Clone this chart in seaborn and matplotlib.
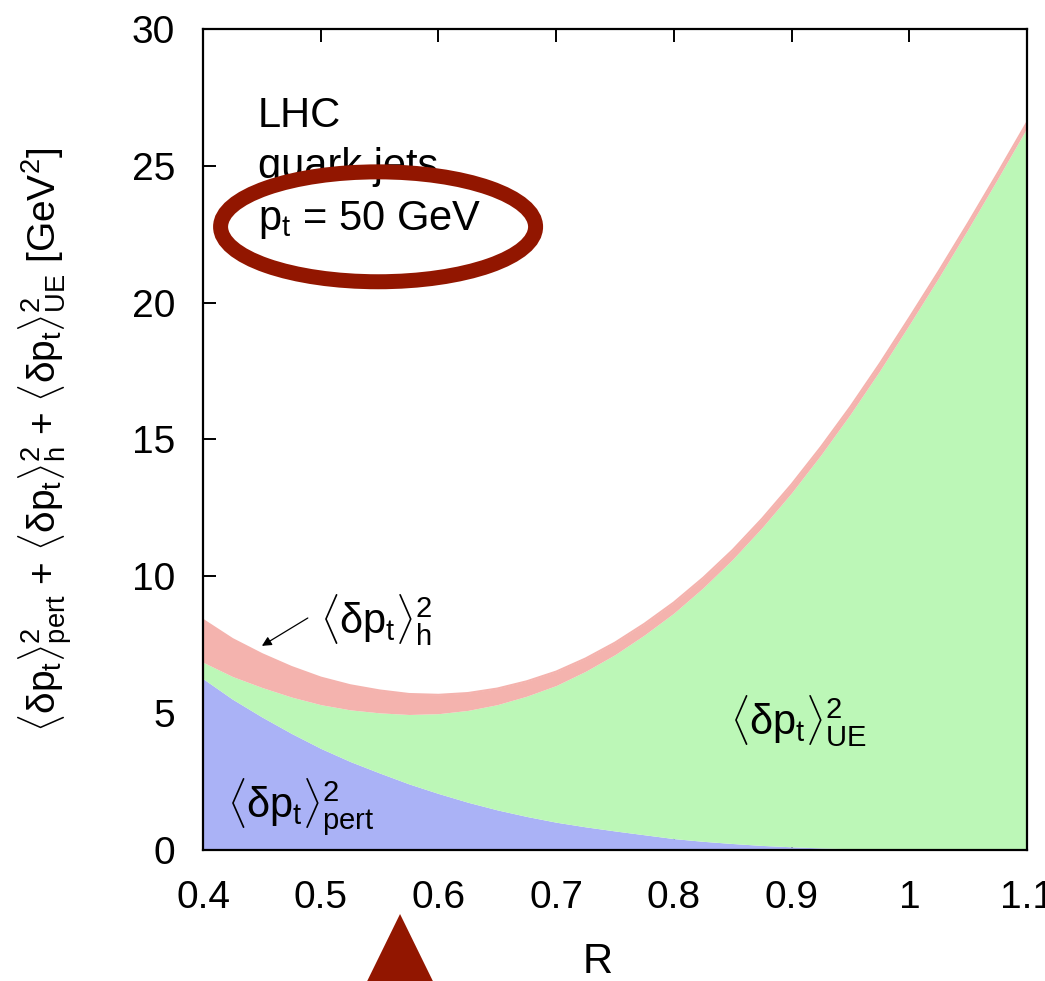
import numpy as np
import pandas as pd
import seaborn as sns
import matplotlib
matplotlib.use("Agg")
import matplotlib.pyplot as plt
from matplotlib.patches import Ellipse, Polygon

# Jet radius and the three contributions to the squared pt dispersion [GeV^2]
R = [0.400, 0.425, 0.450, 0.475, 0.500, 0.525, 0.550, 0.575, 0.600, 0.625,
     0.650, 0.675, 0.700, 0.725, 0.750, 0.775, 0.800, 0.825, 0.850, 0.875,
     0.900, 0.925, 0.950, 0.975, 1.000, 1.025, 1.050, 1.075, 1.100]
pert = [6.25, 5.50, 4.85, 4.25, 3.70, 3.22, 2.80, 2.40, 2.05, 1.73,
        1.45, 1.21, 1.00, 0.83, 0.68, 0.54, 0.40, 0.30, 0.22, 0.15,
        0.10, 0.06, 0.03, 0.01, 0.00, 0.00, 0.00, 0.00, 0.00]
ue = [0.60, 0.83, 1.08, 1.33, 1.60, 1.89, 2.20, 2.54, 2.92, 3.36,
      3.85, 4.40, 5.00, 5.69, 6.45, 7.31, 8.25, 9.28, 10.40, 11.63,
      12.95, 14.38, 15.90, 17.51, 19.20, 20.92, 22.70, 24.53, 26.40]
had = [1.55, 1.37, 1.22, 1.10, 0.99, 0.90, 0.82, 0.75, 0.69, 0.635,
       0.59, 0.545, 0.51, 0.47, 0.44, 0.41, 0.39, 0.365, 0.34, 0.325,
       0.31, 0.29, 0.27, 0.26, 0.25, 0.235, 0.22, 0.21, 0.20]

x_ticks = [0.4, 0.5, 0.6, 0.7, 0.8, 0.9, 1.0, 1.1]
x_ticklabels = ["0.4", "0.5", "0.6", "0.7", "0.8", "0.9", "1", "1.1"]
y_ticks = [0, 5, 10, 15, 20, 25, 30]

sns.set_theme(style="ticks", rc={"text.color": "black", "axes.labelcolor": "black",
                                 "xtick.color": "black", "ytick.color": "black",
                                 "axes.edgecolor": "black"})
plt.rcParams["font.family"] = ["Liberation Sans", "DejaVu Sans"]
plt.rcParams["mathtext.fontset"] = "custom"
plt.rcParams["mathtext.rm"] = "Liberation Sans"
plt.rcParams["mathtext.it"] = "Liberation Sans"
plt.rcParams["mathtext.bf"] = "Liberation Sans:bold"
plt.rcParams["mathtext.sf"] = "Liberation Sans"

df = pd.DataFrame({"R": R, "pert": pert, "ue": ue, "had": had})
df["lvl1"] = df["pert"]
df["lvl2"] = df["pert"] + df["ue"]
df["lvl3"] = df["lvl2"] + df["had"]

c_pert = "#aab2f6"
c_ue = "#bcf7b7"
c_had = "#f4b3ae"

fig = plt.figure(figsize=(10.45, 9.81), dpi=100)
ax = fig.add_axes([0.1943, 0.134, 0.7885, 0.836])

ax.fill_between(df["R"], 0, df["lvl1"], color=c_pert, lw=0)
ax.fill_between(df["R"], df["lvl1"], df["lvl2"], color=c_ue, lw=0)
ax.fill_between(df["R"], df["lvl2"], df["lvl3"], color=c_had, lw=0)
sns.lineplot(data=df, x="R", y="lvl3", ax=ax, color=c_had, lw=1.5)

ax.set_xlim(0.4, 1.1)
ax.set_ylim(0, 30)
ax.set_xticks(x_ticks)
ax.set_xticklabels(x_ticklabels)
ax.set_yticks(y_ticks)
ax.tick_params(direction="in", length=9, width=1.4, top=True, right=True,
               labelsize=28, colors="black")
ax.tick_params(axis="x", pad=22)
ax.tick_params(axis="y", pad=20)
for s in ax.spines.values():
    s.set_linewidth(1.6)
    s.set_color("black")

ax.set_xlabel("R", fontsize=30)
ax.xaxis.set_label_coords(0.479, -0.113)
ax.set_ylabel(r"$\langle\delta p_{\rm t}\rangle^2_{\rm pert}$ + "
              r"$\langle\delta p_{\rm t}\rangle^2_{\rm h}$ + "
              r"$\langle\delta p_{\rm t}\rangle^2_{\rm UE}$ [GeV$^2$]",
              fontsize=28)
ax.yaxis.set_label_coords(-0.155, 0.5)

# Corner text
ax.text(0.4467, 26.43, "LHC", fontsize=30, va="baseline", ha="left")
ax.text(0.4467, 24.55, "quark jets", fontsize=30, va="baseline", ha="left")
ax.text(0.4467, 22.67, r"p$_{\rm t}$ = 50 GeV", fontsize=30, va="baseline", ha="left")

# Labels of the three contributions
ax.text(0.4204, 1.15, r"$\langle\delta p_{\rm t}\rangle^2_{\rm pert}$", fontsize=30,
        va="baseline", ha="left")
ax.text(0.8478, 4.19, r"$\langle\delta p_{\rm t}\rangle^2_{\rm UE}$", fontsize=30,
        va="baseline", ha="left")
ax.text(0.4994, 7.85, r"$\langle\delta p_{\rm t}\rangle^2_{\rm h}$", fontsize=30,
        va="baseline", ha="left")
ax.annotate("", xy=(0.450, 7.45), xytext=(0.489, 8.47),
            arrowprops=dict(arrowstyle="-|>", color="black", lw=0.9,
                            mutation_scale=14, shrinkA=0, shrinkB=0))

# Highlight marks
ax.add_patch(Ellipse((0.5487, 22.78), 0.2676, 4.02, fill=False,
                     edgecolor="#921600", lw=10.8, clip_on=False, zorder=5))
tri = Polygon([[0.3828, 0.0683], [0.3828 - 0.036, -0.01], [0.3828 + 0.036, -0.01]],
              closed=True, facecolor="#921600", edgecolor="none",
              transform=fig.transFigure)
fig.add_artist(tri)

fig.savefig("out.png", dpi=100)
